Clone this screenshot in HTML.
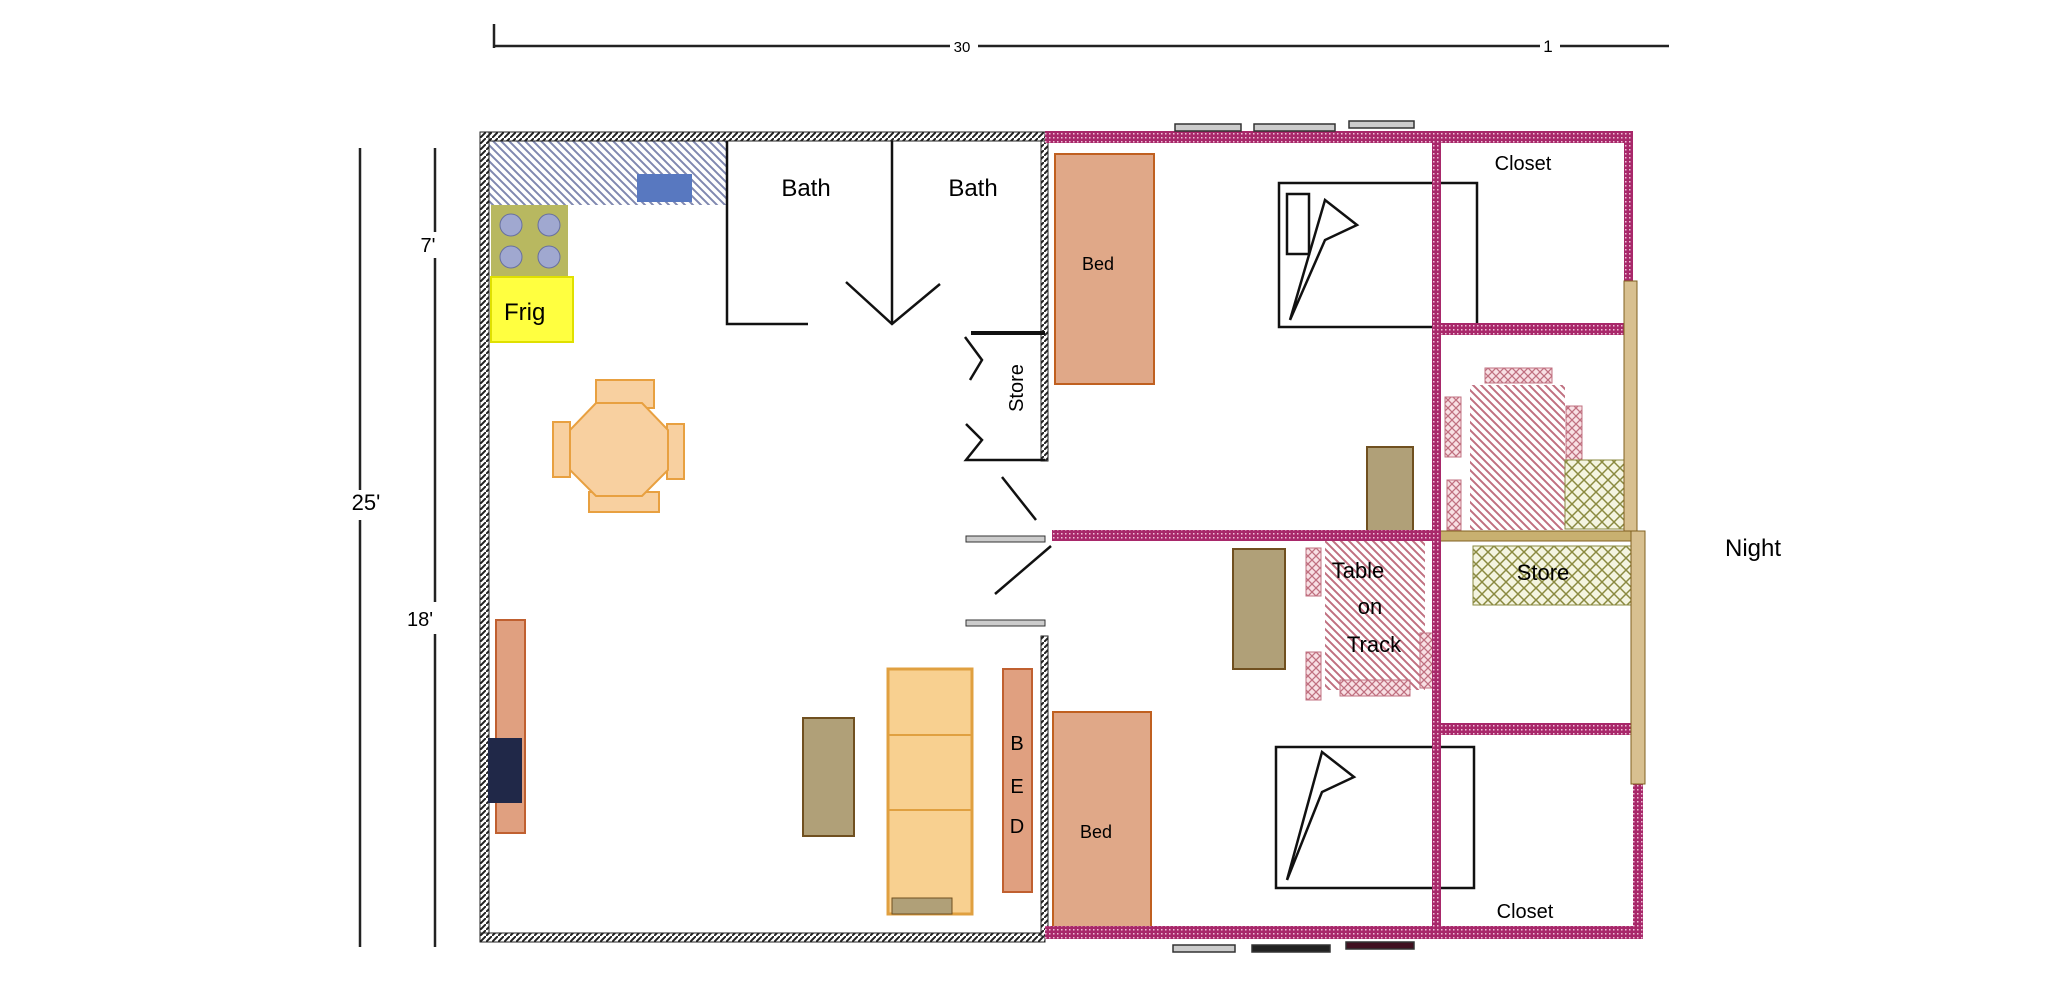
<!DOCTYPE html>
<html><head><meta charset="utf-8"><style>
html,body{margin:0;padding:0;background:#fff;}
svg{display:block;}
text{font-family:"Liberation Sans",sans-serif;}
</style></head><body>
<svg width="2048" height="1001" viewBox="0 0 2048 1001" xmlns="http://www.w3.org/2000/svg">
<defs>
<pattern id="pk" width="4" height="4" patternUnits="userSpaceOnUse"><rect width="4" height="4" fill="#a8286a"/><rect x="1" y="1" width="1.5" height="1.5" fill="#f0c0d8"/></pattern>
<pattern id="bk" width="6" height="6" patternUnits="userSpaceOnUse"><rect width="6" height="6" fill="#fff"/><path d="M0 6L6 0" stroke="#222" stroke-width="2"/></pattern>
<pattern id="hat" width="8" height="8" patternUnits="userSpaceOnUse"><rect width="8" height="8" fill="#fff"/><path d="M0 0L8 8M-4 4L4 12M4 -4L12 4" stroke="#8088b0" stroke-width="2"/></pattern>
<pattern id="hatr" width="8" height="8" patternUnits="userSpaceOnUse"><rect width="8" height="8" fill="#fff"/><path d="M0 0L8 8M-4 4L4 12M4 -4L12 4" stroke="#c07080" stroke-width="2"/></pattern>
<pattern id="xo" width="12" height="12" patternUnits="userSpaceOnUse"><rect width="12" height="12" fill="#f4f4e0"/><path d="M0 0L12 12M12 0L0 12" stroke="#8a8a40" stroke-width="1.5"/></pattern>
<pattern id="xr" width="8" height="8" patternUnits="userSpaceOnUse"><rect width="8" height="8" fill="#f8e0e4"/><path d="M0 0L8 8M8 0L0 8" stroke="#c07080" stroke-width="1.3"/></pattern>
</defs>

<g stroke="#222" stroke-width="2.5" fill="none">
<line x1="494" y1="46" x2="950" y2="46"/><line x1="978" y1="46" x2="1540" y2="46"/><line x1="1560" y1="46" x2="1669" y2="46"/>
<line x1="494" y1="24" x2="494" y2="48"/>
<line x1="360" y1="148" x2="360" y2="490"/><line x1="360" y1="520" x2="360" y2="947"/>
<line x1="435" y1="148" x2="435" y2="232"/><line x1="435" y1="258" x2="435" y2="602"/><line x1="435" y1="634" x2="435" y2="947"/>
</g>
<text x="962" y="52" font-size="15" text-anchor="middle">30</text>
<text x="1548" y="52" font-size="17" text-anchor="middle">1</text>
<text x="366" y="510" font-size="22" text-anchor="middle">25'</text>
<text x="428" y="252" font-size="20" text-anchor="middle">7'</text>
<text x="420" y="626" font-size="20" text-anchor="middle">18'</text>
<text x="1753" y="556" font-size="24" text-anchor="middle">Night</text>

<rect x="486" y="141" width="241" height="64" fill="url(#hat)"/>
<rect x="637" y="174" width="55" height="28" fill="#5878c0"/>
<rect x="491" y="205" width="77" height="72" fill="#b8b860"/>
<g fill="#a0a8d0" stroke="#6870a0"><circle cx="511" cy="225" r="11"/><circle cx="549" cy="225" r="11"/><circle cx="511" cy="257" r="11"/><circle cx="549" cy="257" r="11"/></g>
<rect x="491" y="277" width="82" height="65" fill="#ffff40" stroke="#e0e000" stroke-width="2"/>
<text x="504" y="320" font-size="24">Frig</text>

<rect x="480" y="132" width="565" height="9" fill="url(#bk)" stroke="#222"/>
<rect x="480" y="132" width="9" height="810" fill="url(#bk)" stroke="#222"/>
<rect x="480" y="933" width="565" height="9" fill="url(#bk)" stroke="#222"/>
<rect x="1041" y="141" width="7" height="320" fill="url(#bk)" stroke="#222"/>
<rect x="1041" y="636" width="7" height="300" fill="url(#bk)" stroke="#222"/>

<g stroke="#111" stroke-width="2.5" fill="none">
<polyline points="727,141 727,324 808,324"/>
<line x1="892" y1="141" x2="892" y2="324"/>
<polyline points="846,282 892,324 940,284"/>
<line x1="971" y1="333" x2="1045" y2="333" stroke-width="4"/>
<polyline points="965,337 982,360 970,380"/>
<polyline points="966,424 982,440 966,460 1045,460"/>
<line x1="1002" y1="477" x2="1036" y2="520"/>
<line x1="995" y1="594" x2="1051" y2="546"/>
</g>
<text x="806" y="196" font-size="24" text-anchor="middle">Bath</text>
<text x="973" y="196" font-size="24" text-anchor="middle">Bath</text>
<text x="1016" y="395" font-size="20" text-anchor="middle" transform="rotate(-90 1016 388)">Store</text>
<rect x="966" y="536" width="79" height="6" fill="#ccc" stroke="#333"/>
<rect x="966" y="620" width="79" height="6" fill="#ccc" stroke="#333"/>

<g fill="#f8d0a0" stroke="#e8a040" stroke-width="2">
<rect x="596" y="380" width="58" height="28"/>
<rect x="589" y="492" width="70" height="20"/>
<rect x="553" y="422" width="17" height="55"/>
<rect x="667" y="424" width="17" height="55"/>
<polygon points="596,403 642,403 668,430 668,470 642,496 596,496 570,470 570,430"/>
</g>
<rect x="496" y="620" width="29" height="213" fill="#e0a080" stroke="#c06030" stroke-width="2"/>
<rect x="488" y="738" width="34" height="65" fill="#202848"/>
<rect x="803" y="718" width="51" height="118" fill="#b0a078" stroke="#705020" stroke-width="2"/>
<rect x="888" y="669" width="84" height="245" fill="#f8d090" stroke="#e0a040" stroke-width="3"/>
<g stroke="#e0a040" stroke-width="2"><line x1="888" y1="735" x2="972" y2="735"/><line x1="888" y1="810" x2="972" y2="810"/></g>
<rect x="892" y="898" width="60" height="16" fill="#b0a078" stroke="#705020"/>
<rect x="1003" y="669" width="29" height="223" fill="#e0a080" stroke="#c06030" stroke-width="2"/>
<text x="1017" y="750" font-size="20" text-anchor="middle">B</text>
<text x="1017" y="793" font-size="20" text-anchor="middle">E</text>
<text x="1017" y="833" font-size="20" text-anchor="middle">D</text>

<rect x="1055" y="154" width="99" height="230" fill="#e0a888" stroke="#c06020" stroke-width="2"/>
<text x="1098" y="270" font-size="18" text-anchor="middle">Bed</text>
<rect x="1053" y="712" width="98" height="226" fill="#e0a888" stroke="#c06020" stroke-width="2"/>
<text x="1096" y="838" font-size="18" text-anchor="middle">Bed</text>
<g stroke="#111" stroke-width="2.5" fill="none">
<rect x="1279" y="183" width="198" height="144"/>
<polyline points="1290,320 1325,200 1357,225 1325,240 1290,320"/>
<rect x="1287" y="194" width="22" height="60"/>
<rect x="1276" y="747" width="198" height="141"/>
<polyline points="1287,880 1322,752 1354,777 1322,792 1287,880"/>
</g>
<rect x="1367" y="447" width="46" height="141" fill="#b0a078" stroke="#705020" stroke-width="2"/>
<rect x="1233" y="549" width="52" height="120" fill="#b0a078" stroke="#705020" stroke-width="2"/>

<rect x="1325" y="540" width="100" height="150" fill="url(#hatr)"/>
<g fill="url(#xr)" stroke="#c07080"><rect x="1306" y="548" width="15" height="48"/><rect x="1306" y="652" width="15" height="48"/><rect x="1340" y="680" width="70" height="16"/><rect x="1420" y="633" width="14" height="55"/></g>
<text x="1358" y="578" font-size="22" text-anchor="middle">Table</text>
<text x="1370" y="614" font-size="22" text-anchor="middle">on</text>
<text x="1374" y="652" font-size="22" text-anchor="middle">Track</text>

<rect x="1470" y="385" width="95" height="145" fill="url(#hatr)"/>
<g fill="url(#xr)" stroke="#c07080"><rect x="1485" y="368" width="67" height="15"/><rect x="1445" y="397" width="16" height="60"/><rect x="1566" y="406" width="16" height="55"/><rect x="1447" y="480" width="14" height="50"/></g>
<rect x="1565" y="460" width="61" height="69" fill="url(#xo)" stroke="#8a8a40"/>
<rect x="1473" y="546" width="160" height="59" fill="url(#xo)" stroke="#8a8a40"/>
<text x="1543" y="580" font-size="22" text-anchor="middle">Store</text>
<rect x="1440" y="531" width="200" height="10" fill="#c8b070" stroke="#806020"/>

<g fill="url(#pk)">
<rect x="1045" y="131" width="585" height="12"/>
<rect x="1045" y="926" width="598" height="13"/>
<rect x="1432" y="141" width="9" height="790"/>
<rect x="1624" y="131" width="9" height="150"/>
<rect x="1633" y="780" width="10" height="150"/>
<rect x="1052" y="530" width="385" height="11"/>
<rect x="1437" y="323" width="192" height="12"/>
<rect x="1437" y="723" width="202" height="12"/>
</g>
<rect x="1624" y="281" width="13" height="250" fill="#d8c090" stroke="#806020"/>
<rect x="1631" y="531" width="14" height="253" fill="#d8c090" stroke="#806020"/>
<text x="1523" y="170" font-size="20" text-anchor="middle">Closet</text>
<text x="1525" y="918" font-size="20" text-anchor="middle">Closet</text>

<g stroke="#333" stroke-width="1.5">
<rect x="1175" y="124" width="66" height="7" fill="#ccc"/><rect x="1254" y="124" width="81" height="7" fill="#ccc"/><rect x="1349" y="121" width="65" height="7" fill="#ccc"/>
<rect x="1173" y="945" width="62" height="7" fill="#ccc"/><rect x="1252" y="945" width="78" height="7" fill="#222"/><rect x="1346" y="942" width="68" height="7" fill="#401020"/>
</g>
</svg>
</body></html>
